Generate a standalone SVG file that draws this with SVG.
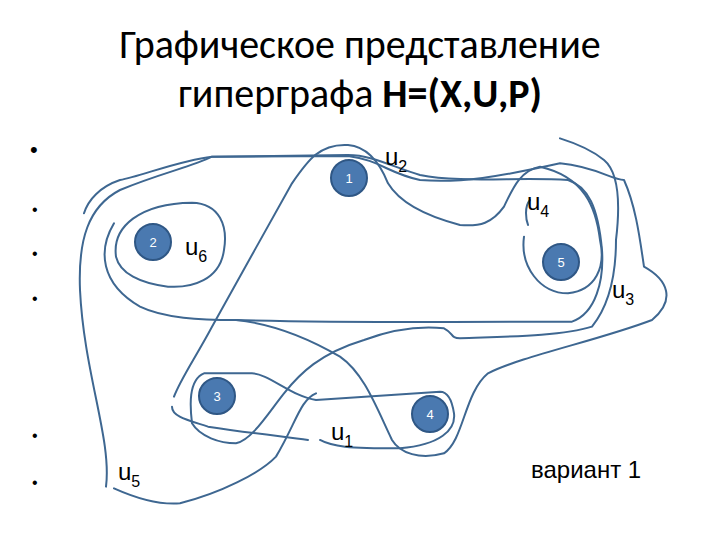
<svg xmlns="http://www.w3.org/2000/svg" width="720" height="540" viewBox="0 0 720 540">
<style>
.t{font-family:Calibri,Carlito,"Liberation Sans",sans-serif;fill:#000}
.c{fill:none;stroke:#3e6791;stroke-width:2;stroke-linecap:round;stroke-linejoin:round;vector-effect:non-scaling-stroke}
.n{fill:#4a79b0;stroke:#2f5785;stroke-width:2}
.nl{font-family:"Liberation Sans",sans-serif;font-size:13px;fill:#fff;text-anchor:middle}
.l{font-family:"Liberation Sans",sans-serif;font-size:24px;fill:#000}
.s{font-size:16px}
</style>
<rect width="720" height="540" fill="#fff"/>
<text class="t" x="360" y="58" font-size="40" text-anchor="middle">Графическое представление</text>
<text class="t" x="360" y="107" font-size="40" text-anchor="middle">гиперграфа <tspan font-weight="bold">H=(X,U,P)</tspan></text>
<g font-family="Liberation Sans,sans-serif" font-size="22">
<text x="30" y="157">•</text><text x="32" y="215" font-size="16">•</text><text x="32" y="259" font-size="16">•</text><text x="32" y="304" font-size="16">•</text><text x="32" y="441" font-size="16">•</text><text x="32" y="488" font-size="16">•</text>
</g>
<g id="connectors" transform="translate(60,140) scale(0.4,0.3333)">
<path class="c" d="M140,350 C130,260 200,190 330,188 C400,190 420,260 410,330 C400,420 330,445 270,440 C200,430 150,400 140,350"/>
<path class="c" d="M135,250 C95,330 100,430 200,500 C260,535 350,540 440,540 C700,550 1150,545 1280,545 C1340,520 1360,420 1355,330 C1345,200 1320,140 1270,120 C1150,110 1000,130 900,105 C830,80 780,45 720,45 L380,50 C300,60 200,110 150,120 C100,140 70,180 60,220"/>
<path class="c" d="M1175,180 C1160,200 1165,240 1170,255 M1160,290 C1150,380 1200,460 1270,460 C1340,450 1365,380 1350,300 C1340,200 1310,110 1200,80 C1150,90 1130,150 1110,200 C1080,250 1050,260 1000,255 C920,230 850,190 820,130 C800,70 770,20 720,15 C650,10 620,60 580,130 C520,260 430,450 380,560 C340,650 300,720 285,770 M280,800 C280,830 320,840 370,860 C480,880 560,890 620,900"/>
<path class="c" d="M115,1040 C130,900 60,700 50,450 C45,300 70,200 150,150 C250,100 330,80 380,50 L720,48 C800,60 820,100 900,120 C1000,130 1100,110 1250,70 C1340,80 1380,120 1410,120 C1440,200 1450,300 1460,380 C1520,420 1540,480 1480,540 C1350,600 1150,650 1070,700 C1010,760 1010,900 960,940 C900,960 850,940 830,900 C790,800 760,700 700,650 C600,580 520,550 440,540"/>
<path class="c" d="M650,900 C680,920 720,925 850,925 C950,915 990,870 985,820 C980,780 970,755 950,755 L640,780 C580,770 520,700 480,700 L360,700 C320,720 325,800 330,850 C350,890 400,910 440,910 C480,900 520,820 560,760 C600,700 650,640 760,600 C850,560 920,560 960,565 C985,580 975,595 1000,595 C1100,590 1250,590 1330,560 C1370,500 1390,420 1390,300 C1400,200 1400,100 1360,60 C1330,30 1290,10 1250,-5"/>
<path class="c" d="M135,1045 C200,1080 250,1095 300,1090 C400,1060 500,1000 540,950 C590,850 600,780 640,760"/>
</g>
<g id="n1"><circle class="n" cx="349" cy="178" r="18"/><text class="nl" x="349" y="183">1</text></g>
<g id="n2"><circle class="n" cx="153" cy="242" r="18"/><text class="nl" x="153" y="247">2</text></g>
<g id="n3"><circle class="n" cx="217" cy="396" r="18"/><text class="nl" x="217" y="401">3</text></g>
<g id="n4"><circle class="n" cx="430" cy="414" r="18"/><text class="nl" x="430" y="419">4</text></g>
<g id="n5"><circle class="n" cx="561" cy="262" r="18"/><text class="nl" x="561" y="267">5</text></g>
<g id="labels" class="l">
<text x="385" y="165">u<tspan class="s" dy="7">2</tspan></text>
<text x="527" y="210">u<tspan class="s" dy="7">4</tspan></text>
<text x="185" y="255">u<tspan class="s" dy="7">6</tspan></text>
<text x="612" y="298">u<tspan class="s" dy="7">3</tspan></text>
<text x="331" y="440">u<tspan class="s" dy="7">1</tspan></text>
<text x="118" y="480">u<tspan class="s" dy="7">5</tspan></text>
<text x="531" y="478">вариант 1</text>
</g>
</svg>
